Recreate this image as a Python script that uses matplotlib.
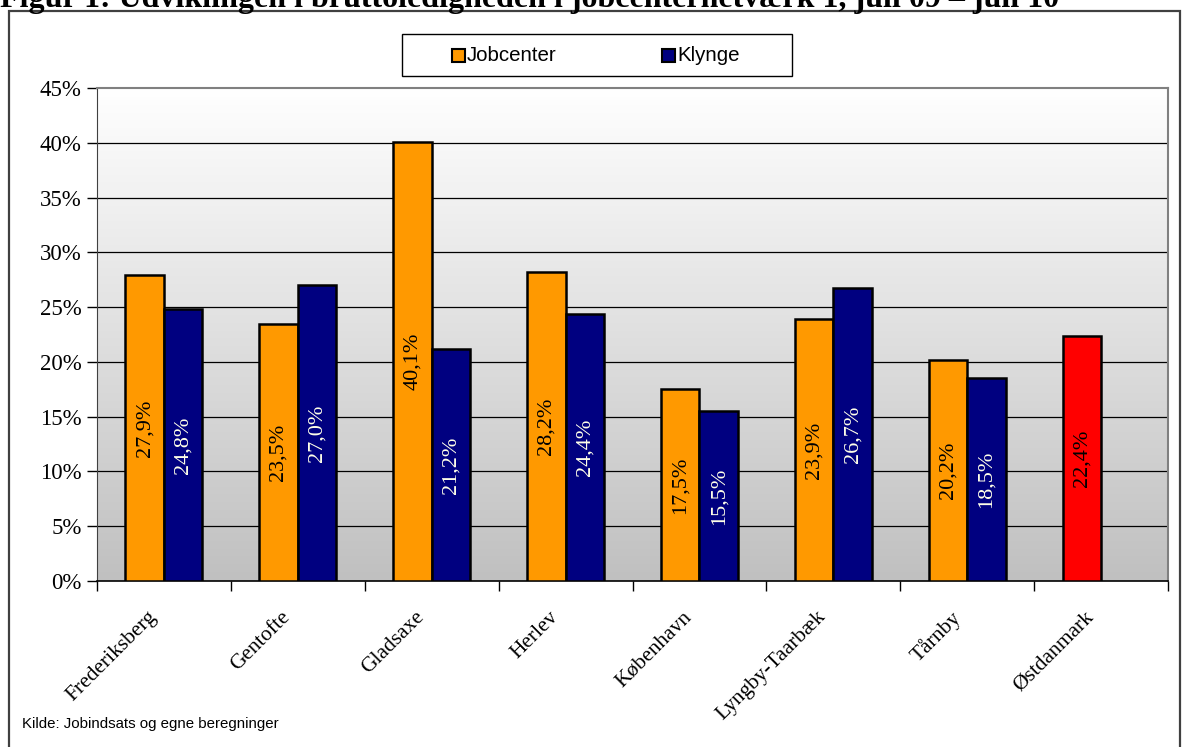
import numpy as np
import matplotlib
matplotlib.use("Agg")
import matplotlib.pyplot as plt
from matplotlib.patches import Rectangle
from matplotlib.ticker import FixedLocator
from matplotlib.colors import LinearSegmentedColormap
import matplotlib.transforms as mtransforms

categories = ["Frederiksberg", "Gentofte", "Gladsaxe", "Herlev", "København",
              "Lyngby-Taarbæk", "Tårnby", "Østdanmark"]
jobcenter = [27.9, 23.5, 40.1, 28.2, 17.5, 23.9, 20.2, 22.4]
klynge = [24.8, 27.0, 21.2, 24.4, 15.5, 26.7, 18.5, np.nan]
yticks = [0, 5, 10, 15, 20, 25, 30, 35, 40, 45]
series_names = ["Jobcenter", "Klynge"]

W, H = 1188, 747
fig = plt.figure(figsize=(W / 100, H / 100), dpi=100)
fig.patch.set_facecolor("white")

serif = ["Liberation Serif", "DejaVu Serif"]
sans = ["Liberation Sans", "DejaVu Sans"]

def fx(px):
    return px / W

def fy(py):
    return 1 - py / H

# outer frame
fig.add_artist(Rectangle((fx(9), -0.01), fx(1180 - 9), fy(11) + 0.01,
                         transform=fig.transFigure, fill=False,
                         edgecolor="#404040", linewidth=1.6))
# title (cut off at top edge, as in the reference)
fig.text(0.0, fy(7), "Figur 1: Udviklingen i bruttoledigheden i jobcenternetværk 1, juli 09 – juli 10",
         ha="left", va="baseline", fontsize=23, fontweight="bold", family=serif)

ax = fig.add_axes([fx(97), fy(581), fx(1168 - 97), (581 - 88) / H])
n = len(categories)
ax.set_xlim(0, n)
ax.set_ylim(0, 45)

# gradient background
grad = np.linspace(0, 1, 256).reshape(-1, 1)
cmap = LinearSegmentedColormap.from_list("g", ["#c0c0c0", "#ffffff"])
ax.imshow(grad, extent=[0, n, 0, 45], origin="lower", aspect="auto", cmap=cmap, zorder=0)

for y in yticks[1:-1]:
    ax.axhline(y, color="black", linewidth=0.9, zorder=1)

x = np.arange(n) + 0.5
bw = 0.288
jc_colors = ["#ff9900"] * (n - 1) + ["#ff0000"]
ax.bar(x - bw / 2, jobcenter, width=bw, color=jc_colors, edgecolor="black", linewidth=1.8, zorder=3)
ax.bar(x + bw / 2, klynge, width=bw, color="#000080", edgecolor="black", linewidth=1.8, zorder=3)

for xi, v in zip(x - bw / 2, jobcenter):
    ax.text(xi, v / 2, f"{v:.1f}%".replace(".", ","), rotation=90, ha="center", va="center",
            fontsize=16, family=serif, color="black", zorder=4)
for xi, v in zip(x + bw / 2, klynge):
    if np.isnan(v):
        continue
    ax.text(xi, v / 2, f"{v:.1f}%".replace(".", ","), rotation=90, ha="center", va="center",
            fontsize=16, family=serif, color="#ffffe8", zorder=4)

ax.set_yticks(yticks)
ax.set_yticklabels([f"{t}%" for t in yticks], fontsize=16.5, family=serif)
ax.tick_params(axis="y", direction="out", length=7, width=1, pad=4)

ax.set_xticks(x)
ax.set_xticklabels(categories, rotation=45, ha="right", va="top", rotation_mode="anchor",
                   fontsize=15.5, family=serif)
ax.tick_params(axis="x", which="major", length=0, pad=19)
off = mtransforms.ScaledTranslation(-17 / 100, 0, fig.dpi_scale_trans)
for lab in ax.get_xticklabels():
    lab.set_transform(lab.get_transform() + off)
ax.xaxis.set_minor_locator(FixedLocator(np.arange(0, n + 1)))
ax.tick_params(axis="x", which="minor", direction="out", length=7, width=1)

for s in ["top", "right"]:
    ax.spines[s].set_color("#808080")
    ax.spines[s].set_linewidth(1.5)
ax.spines["left"].set_color("#404040")
ax.spines["bottom"].set_color("black")
ax.spines["bottom"].set_linewidth(1.2)

# legend (drawn as a framed key in figure pixels)
fig.add_artist(Rectangle((fx(402), fy(76)), fx(792 - 402), (76 - 34) / H,
                         transform=fig.transFigure, facecolor="white",
                         edgecolor="black", linewidth=1.0))
leg_colors = ["#ff9900", "#000080"]
leg_x = [452, 662]
for name, col, lx in zip(series_names, leg_colors, leg_x):
    fig.add_artist(Rectangle((fx(lx), fy(62)), fx(13), 13 / H, transform=fig.transFigure,
                             facecolor=col, edgecolor="black", linewidth=1.5))
    fig.text(fx(lx + 15), fy(55.5), name, ha="left", va="center", fontsize=14.8, family=sans)

fig.text(fx(22), fy(724), "Kilde: Jobindsats og egne beregninger", ha="left", va="center",
         fontsize=10.8, family=sans)

fig.savefig("out.png", dpi=100)
